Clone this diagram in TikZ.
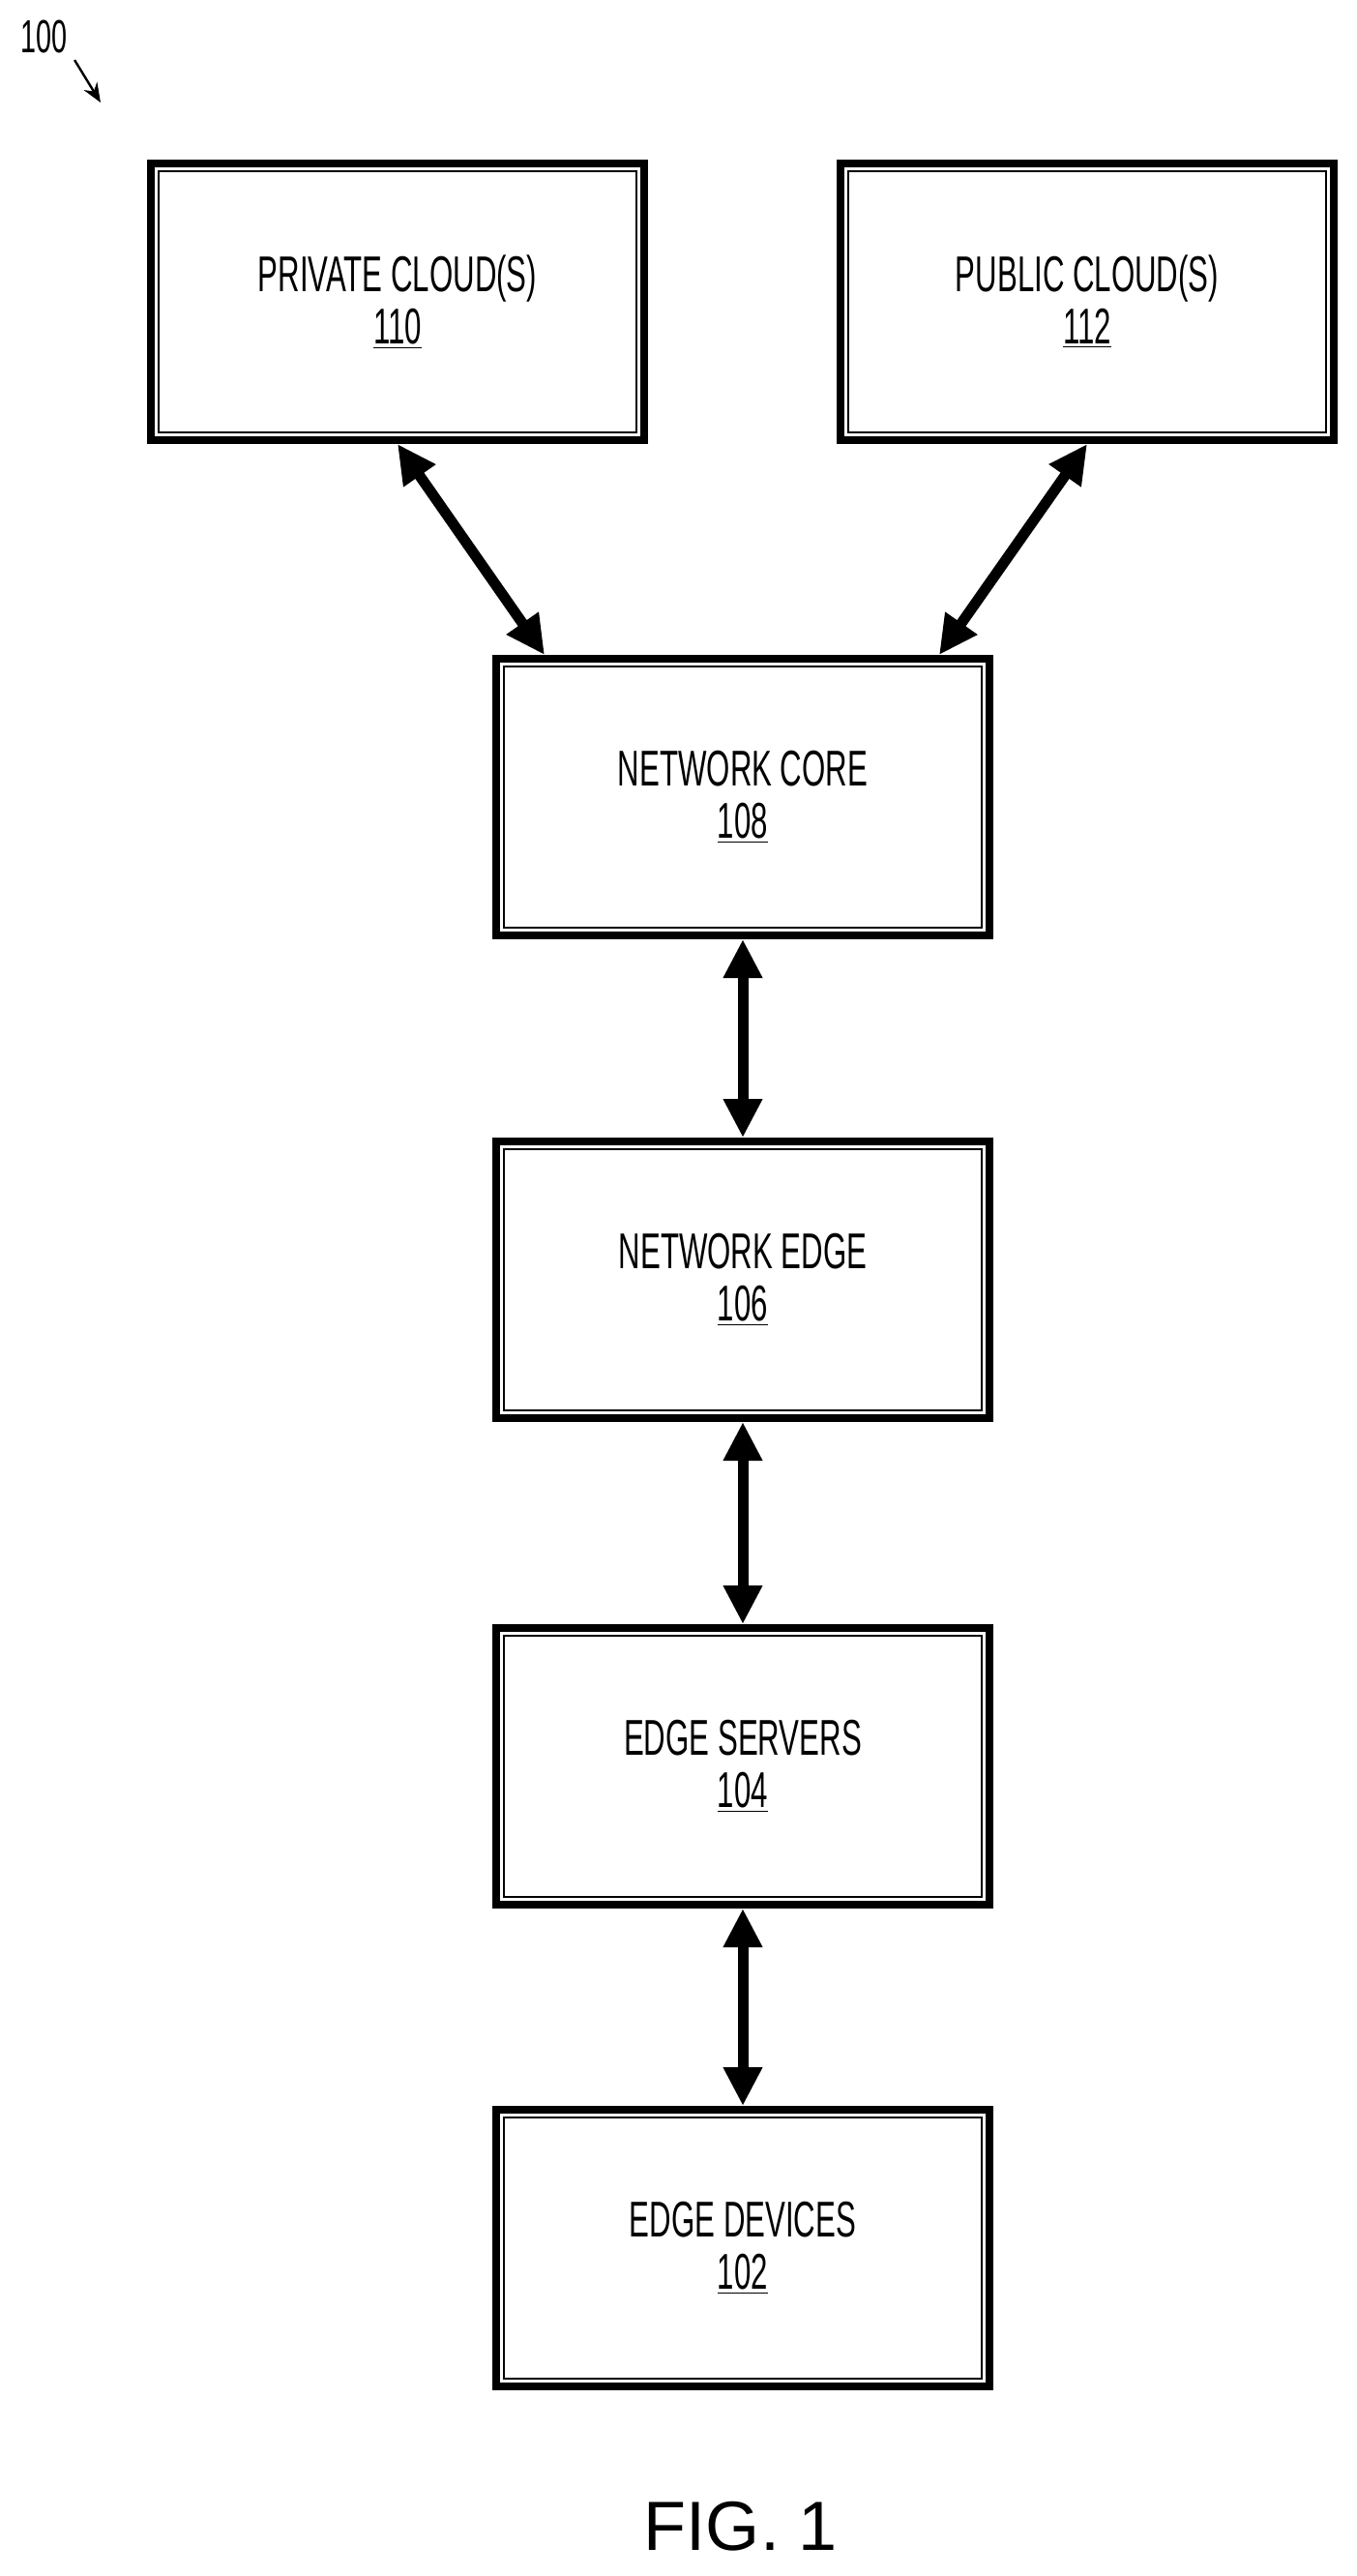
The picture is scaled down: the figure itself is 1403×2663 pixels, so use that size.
\documentclass[tikz,border=0pt]{standalone}
\usepackage{fontspec}
\setmainfont{Liberation Sans}
\newfontfamily\narrowfont[FakeStretch=0.6]{Liberation Sans}
\usetikzlibrary{arrows.meta}

\tikzset{
  block/.style={draw, line width=4pt, minimum width=255pt, minimum height=143pt,
    align=center, font=\narrowfont\fontsize{26}{27}\selectfont},
  link/.style={line width=5.5pt, {Triangle[length=20pt,width=19pt]}-{Triangle[length=20pt,width=19pt]}},
}

\begin{document}
\begin{tikzpicture}[x=0.5pt, y=-0.5pt]
\useasboundingbox (0,0) rectangle (1403,2663);

% Boxes
\node[block] (private) at (411,312) {PRIVATE CLOUD(S)\\\underline{110}};
\node[block] (public) at (1124,312) {PUBLIC CLOUD(S)\\\underline{112}};
\node[block] (core) at (768,824) {NETWORK CORE\\\underline{108}};
\node[block] (edge) at (768,1323) {NETWORK EDGE\\\underline{106}};
\node[block] (servers) at (768,1826) {EDGE SERVERS\\\underline{104}};
\node[block] (devices) at (768,2324) {EDGE DEVICES\\\underline{102}};

% Inner frames
\foreach \n in {private, public, core, edge, servers, devices}
  \draw[line width=1.2pt] ([shift={(6pt,-6pt)}]\n.north west) rectangle ([shift={(-6pt,6pt)}]\n.south east);

% Links
\draw[link] (private.south) -- ([xshift=27pt]core.north west);
\draw[link] (public.south) -- ([xshift=-28pt]core.north east);
\draw[link] (core) -- (edge);
\draw[link] (edge) -- (servers);
\draw[link] (servers) -- (devices);

% Figure reference
\node[font=\narrowfont\fontsize{24}{26}\selectfont] (ref) at (46,38) {100};
\coordinate (refend) at (104,106);
\draw[line width=1.2pt, -{Stealth[length=10pt,width=8pt]}] (ref.south east) -- (refend);

\node[font=\fontsize{36}{40}\selectfont] (fig) at (766,2612) {FIG. 1};
\end{tikzpicture}
\end{document}
